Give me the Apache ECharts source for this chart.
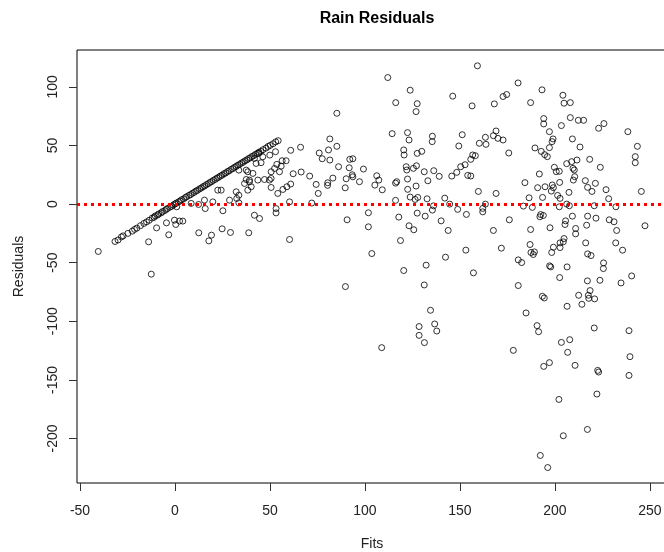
<!DOCTYPE html>
<html>
<head>
<meta charset="utf-8">
<title>Rain Residuals</title>
<script src="https://cdn.jsdelivr.net/npm/echarts@6/dist/echarts.min.js"></script>
<style>
    html, body { margin: 0; padding: 0; background: #fff; }
    #chart { width: 664px; height: 552px; }
</style>
</head>
<body>
<div id="chart"></div>
<script>
    // tick labels
    let xTicks = [-50, 0, 50, 100, 150, 200, 250];
    let yTicks = [-200, -150, -100, -50, 0, 50, 100];

    // dry days: residual sits on the fit (the diagonal chain at the left)
    let diagonalPoints = [
        [-40.4, -40.4], [-31.6, -31.9], [-30.0, -30.6], [-28.2, -28.0], [-27.3, -27.1], [-24.8, -25.0],
        [-22.5, -23.1], [-21.3, -21.6], [-20.1, -20.5], [-18.2, -18.4], [-16.4, -16.5], [-15.0, -15.2],
        [-13.6, -13.8], [-12.0, -11.9], [-11.0, -11.2], [-10.4, -10.1], [-9.1, -9.3], [-8.6, -8.4],
        [-7.3, -7.5], [-6.7, -6.5], [-5.5, -5.6], [-4.6, -4.5], [-3.9, -3.7], [-2.7, -2.6],
        [-1.8, -1.9], [-0.9, -0.8], [0.0, 0.1], [0.6, 0.8], [1.8, 1.9], [2.7, 2.6],
        [3.4, 3.7], [4.5, 4.4], [5.5, 5.6], [6.1, 6.3], [7.3, 7.4], [8.2, 8.1],
        [9.1, 9.2], [10.1, 10.0], [11.0, 11.1], [11.9, 11.8], [12.9, 13.0], [13.8, 13.7],
        [14.7, 14.8], [15.6, 15.5], [16.5, 16.6], [17.5, 17.4], [18.4, 18.5], [19.3, 19.2],
        [20.2, 20.3], [21.2, 21.1], [22.1, 22.2], [23.0, 22.9], [23.9, 24.0], [24.8, 24.7],
        [25.8, 25.9], [26.7, 26.6], [27.6, 27.7], [28.5, 28.4], [29.5, 29.6], [30.4, 30.3],
        [31.3, 31.4], [32.2, 32.1], [33.1, 33.2], [34.1, 34.0], [35.0, 35.1], [35.9, 35.8],
        [36.8, 36.9], [37.8, 37.7], [38.7, 38.8], [39.6, 39.5], [40.5, 40.6], [41.4, 41.3],
        [42.4, 42.5], [43.3, 43.2], [44.2, 44.3], [45.2, 45.0], [46.3, 46.4], [47.9, 47.8],
        [49.0, 49.2], [50.1, 50.1], [51.6, 51.5], [53.0, 53.1], [54.3, 54.1]
    ];

    // everything else: [fit, residual]
    let scatterPoints = [
        // left, near zero
        [-13.9, -32.2], [-12.5, -59.8], [-9.7, -20.3], [-3.3, -26.2], [-4.5, -16.0], [-0.3, -13.7],
        [0.4, -17.4], [2.4, -14.5], [4.1, -14.5], [0.9, -2.3], [8.5, 0.6], [12.4, -0.3], [12.5, -24.5],
        [19.2, -26.5], [17.8, -31.4], [24.8, -21.1], [29.2, -24.2], [38.8, -24.5],
        [52.9, 44.7], [49.9, 41.8], [44.1, 43.3], [41.8, 39.0], [46.2, 40.4], [45.3, 35.3],
        [42.7, 34.7], [53.6, 33.9], [56.4, 37.0], [58.5, 37.0], [55.9, 32.4], [52.4, 30.4],
        [50.6, 27.6], [50.6, 21.9], [49.7, 20.5], [47.1, 21.0], [43.6, 20.5], [39.2, 20.5],
        [37.5, 21.0], [38.3, 27.6], [37.5, 29.0], [33.6, 29.0], [41.0, 26.2], [36.6, 17.6],
        [39.2, 19.0], [55.0, 27.6], [58.9, 14.8], [56.8, 12.5], [54.1, 9.1], [50.6, 14.2],
        [40.1, 14.8], [38.3, 11.9], [32.2, 10.5], [33.6, 7.6], [32.5, 4.8], [28.7, 3.4],
        [24.3, 11.9], [22.5, 11.9], [19.9, 1.9], [15.5, 3.4], [15.9, -3.8], [25.2, -5.7],
        [33.6, 1.1], [41.8, -9.5], [53.2, -3.8], [53.2, -7.5], [44.5, -12.3], [60.3, 1.9],
        // middle, above zero
        [112.0, 108.0], [123.8, 97.2], [116.2, 86.6], [127.5, 85.7], [126.9, 78.9], [146.2, 92.1],
        [85.2, 77.5], [114.3, 60.1], [122.4, 61.0], [123.2, 54.7], [135.5, 57.9], [135.4, 53.3],
        [151.2, 59.2], [149.4, 49.6], [81.5, 55.6], [85.2, 49.3], [80.8, 46.2], [75.9, 43.6],
        [77.5, 38.7], [81.5, 37.6], [66.1, 48.5], [60.9, 45.9], [120.4, 46.2], [120.6, 41.9],
        [127.5, 43.3], [129.9, 45.0], [92.0, 38.2], [93.6, 38.7], [86.1, 31.9], [91.7, 31.0],
        [99.2, 29.9], [121.7, 31.9], [122.0, 29.1], [125.5, 30.5], [127.1, 32.7], [131.2, 27.6],
        [136.2, 28.5], [139.1, 23.7], [150.4, 31.9], [152.7, 33.6], [148.3, 27.1], [145.7, 23.9],
        [154.1, 24.5], [62.2, 25.9], [66.4, 27.4], [70.9, 23.9], [83.1, 22.2], [80.4, 18.2],
        [80.3, 16.0], [90.1, 21.6], [93.3, 25.0], [93.6, 23.3], [97.1, 19.1], [74.3, 16.8],
        [75.4, 9.1], [89.6, 13.9], [60.9, 17.1], [106.2, 24.2], [107.3, 20.5], [105.2, 16.2],
        [109.1, 12.2], [116.1, 17.9], [116.7, 19.1], [122.4, 21.4], [122.5, 12.6], [126.9, 15.4],
        [133.1, 19.9], [123.8, 6.0], [127.8, 5.7], [132.7, 4.5], [142.0, 5.1], [116.1, 3.2],
        [126.4, 4.0], [72.0, 0.9], [136.1, -1.5], [144.6, 0.0], [148.8, -4.5],
        // middle, below zero
        [135.5, -5.1], [153.4, -8.8], [90.6, -13.4], [101.8, -7.4], [101.8, -19.4], [117.8, -11.1],
        [127.5, -7.7], [131.7, -10.3], [123.2, -18.5], [125.7, -21.9], [140.1, -14.3], [143.8, -22.5],
        [60.3, -30.2], [118.7, -31.1], [103.6, -42.2], [153.1, -39.3], [142.4, -45.3], [132.2, -52.1],
        [120.4, -56.7], [131.2, -69.0], [89.7, -70.4], [134.5, -90.6], [136.7, -102.3], [137.8, -108.3],
        [128.5, -104.5], [128.5, -112.0], [131.3, -118.2], [108.8, -122.5],
        // right, above zero
        [159.2, 118.0], [180.6, 103.4], [193.2, 97.5], [204.2, 92.9], [204.8, 86.1], [208.1, 86.6],
        [156.4, 83.8], [168.1, 85.5], [172.7, 91.8], [174.6, 93.5], [187.2, 86.6], [194.1, 73.0],
        [194.1, 68.4], [208.1, 73.8], [212.3, 71.5], [215.1, 71.5], [203.4, 67.0], [223.0, 64.7],
        [225.8, 68.7], [238.4, 61.8], [197.1, 61.8], [169.0, 62.4], [167.6, 58.4], [170.0, 56.1],
        [172.7, 54.7], [163.4, 57.0], [160.2, 51.9], [163.7, 51.0], [199.0, 55.6], [198.5, 53.3],
        [209.2, 55.6], [213.2, 48.7], [189.5, 47.9], [192.8, 45.0], [194.6, 42.2], [196.0, 40.5],
        [197.1, 48.2], [175.7, 43.6], [243.4, 49.3], [242.3, 40.5], [242.3, 35.3], [158.1, 41.3],
        [156.7, 41.9], [155.7, 38.2], [155.7, 24.0], [211.6, 37.6], [206.2, 34.5], [208.8, 36.2],
        [209.5, 30.5], [210.2, 29.1], [218.3, 38.2], [223.9, 31.4], [199.7, 31.4], [200.7, 27.7],
        [202.3, 28.0], [191.8, 25.7], [184.2, 18.3], [190.9, 14.0], [194.8, 14.8], [198.6, 16.3],
        [199.2, 14.0], [198.1, 11.1], [202.5, 18.5], [207.4, 10.0], [210.4, 23.4], [209.7, 20.5],
        [216.0, 20.0], [217.2, 14.3], [219.5, 10.8], [221.3, 17.7], [226.9, 12.3], [245.5, 10.8],
        [159.7, 10.8], [169.0, 9.1], [186.4, 5.4], [193.5, 5.7], [201.4, 7.4], [202.7, 4.9],
        [228.3, 4.6], [163.4, 0.0], [162.0, -3.7], [183.4, -1.7], [188.1, -2.8], [206.2, 0.0],
        [207.6, -1.4], [220.7, -1.4], [232.1, -2.3], [202.3, -2.3],
        // right, below zero
        [162.0, -6.6], [176.0, -13.4], [167.6, -22.5], [192.5, -8.9], [193.9, -9.7], [192.1, -10.8],
        [197.4, -20.2], [187.2, -21.7], [205.6, -14.3], [205.3, -17.4], [209.2, -10.3], [217.2, -10.3],
        [216.7, -18.0], [221.6, -12.0], [228.6, -13.4], [231.1, -15.1], [232.5, -22.5], [210.9, -20.8],
        [210.9, -25.4], [247.4, -18.5], [171.8, -37.6], [186.9, -34.5], [187.4, -41.3], [189.2, -40.8],
        [188.6, -43.0], [199.2, -36.8], [198.3, -41.3], [202.7, -37.1], [202.7, -33.1], [204.4, -32.2],
        [204.8, -29.4], [216.2, -33.1], [217.2, -42.5], [219.0, -43.9], [232.0, -33.1], [235.6, -39.3],
        [180.7, -47.6], [182.5, -49.9], [157.1, -58.7], [197.2, -52.7], [197.8, -53.6], [206.4, -53.6],
        [225.6, -50.2], [225.5, -55.0], [202.5, -62.7], [217.1, -65.5], [223.7, -65.0], [234.8, -67.3],
        [240.4, -61.3], [180.7, -69.5], [218.5, -73.8], [217.6, -77.8], [212.5, -77.8], [217.8, -80.4],
        [220.9, -80.9], [214.2, -85.5], [193.4, -78.7], [194.4, -80.1], [206.4, -87.2], [184.8, -92.9],
        [190.6, -103.7], [191.4, -108.9], [220.7, -105.7], [239.0, -108.0], [203.4, -118.0], [207.8, -115.7],
        [178.1, -124.8], [206.7, -126.5], [197.1, -135.3], [194.1, -138.5], [210.6, -137.6], [222.5, -141.9],
        [223.0, -143.3], [239.5, -130.2], [239.0, -146.2], [222.1, -162.1], [202.1, -166.7], [217.1, -192.3],
        [204.4, -197.7], [192.3, -214.5], [196.2, -224.8]
    ];

    let fontFamily = '"Liberation Sans", Arial, sans-serif';
    let myChart = echarts.init(document.getElementById('chart'));
    let option = {
        backgroundColor: '#fff',
        animation: false,
        title: {
            text: 'Rain Residuals',
            left: 372,
            top: 6,
            textAlign: 'center',
            textStyle: {
                fontFamily: fontFamily,
                fontSize: 16,
                fontWeight: 'bold',
                color: '#000'
            }
        },
        grid: {
            left: 77,
            top: 50,
            width: 590,
            height: 433,
            outerBoundsMode: 'none',
            show: true,
            borderColor: '#000',
            borderWidth: 1,
            backgroundColor: 'transparent'
        },
        xAxis: {
            type: 'value',
            min: -51.6,
            max: 259,
            name: 'Fits',
            nameLocation: 'middle',
            nameGap: 54,
            nameTextStyle: { fontFamily: fontFamily, fontSize: 14, color: '#222' },
            axisLine: { show: false, onZero: false },
            splitLine: { show: false },
            axisTick: {
                show: true,
                length: 8,
                customValues: xTicks,
                lineStyle: { color: '#333' }
            },
            axisLabel: {
                customValues: xTicks,
                margin: 21,
                fontFamily: fontFamily,
                fontSize: 14,
                color: '#222'
            }
        },
        yAxis: {
            type: 'value',
            min: -238,
            max: 131.5,
            name: 'Residuals',
            nameLocation: 'middle',
            nameGap: 51,
            nameRotate: 90,
            nameTextStyle: { fontFamily: fontFamily, fontSize: 14, color: '#222' },
            axisLine: { show: false, onZero: false },
            splitLine: { show: false },
            axisTick: {
                show: true,
                length: 8,
                customValues: yTicks,
                lineStyle: { color: '#333' }
            },
            axisLabel: {
                customValues: yTicks,
                rotate: 90,
                margin: 17,
                fontFamily: fontFamily,
                fontSize: 14,
                color: '#222'
            }
        },
        series: [{
            type: 'scatter',
            symbol: 'circle',
            symbolSize: 6,
            data: diagonalPoints.concat(scatterPoints),
            itemStyle: {
                color: 'rgba(0,0,0,0)',
                borderColor: '#000',
                borderWidth: 1
            },
            markLine: {
                silent: true,
                symbol: ['none', 'none'],
                label: { show: false },
                lineStyle: { color: '#ff0000', width: 3, type: [3, 4] },
                data: [{ yAxis: 0 }]
            }
        }]
    };
    myChart.setOption(option);
</script>
</body>
</html>
